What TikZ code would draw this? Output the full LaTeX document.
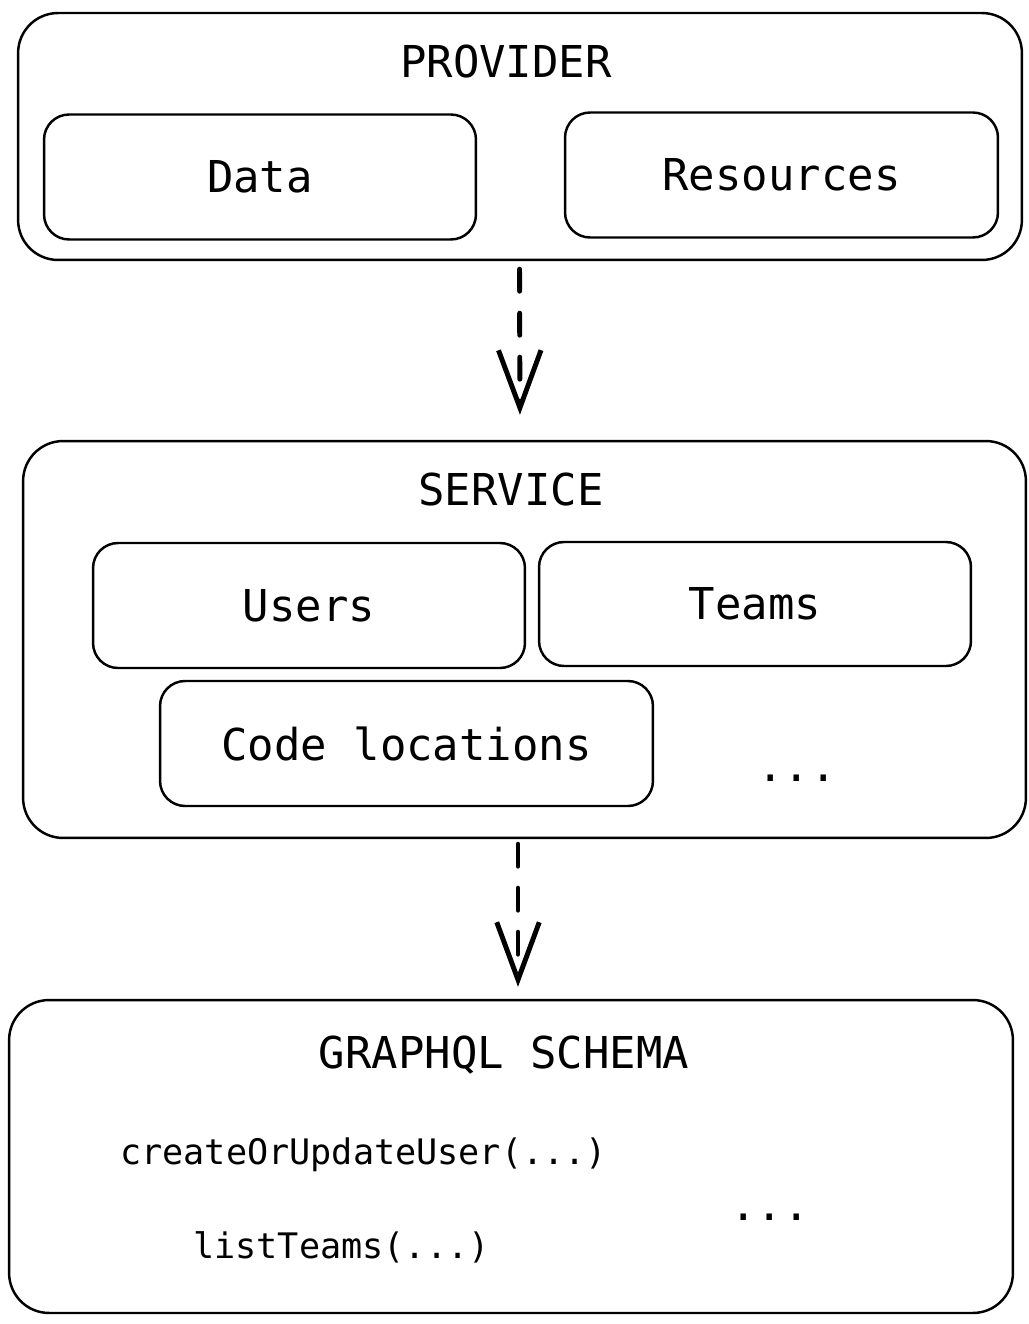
\documentclass[tikz,border=0pt]{standalone}
\usepackage{fontspec}
\setmonofont{DejaVu Sans Mono}
\usepackage{tikz}
\usetikzlibrary{arrows.meta}
\tikzset{
    every node/.style={inner sep=0mm, font=\ttfamily\fontsize{25}{30}\selectfont},
    layer/.style={draw, line width=1.4pt, rounded corners=0.8cm},
    part/.style={draw, line width=1.4pt, rounded corners=0.5cm, minimum width=8.64cm, minimum height=2.5cm},
    flow/.style={line width=2.8pt, line cap=round, dash pattern=on 0.44cm off 0.44cm,
        -{Straight Barb[length=1.15cm, width=0.85cm, line width=2.8pt]}},
    small/.style={font=\ttfamily\fontsize{20}{24}\selectfont}
}

\begin{document}
\begin{tikzpicture}[x=0.02cm, y=-0.02cm]
        \useasboundingbox (0,0) rectangle (1028,1324);
        % provider
        \node (prov) [layer, minimum width=20.08cm, minimum height=4.94cm] at (520, 136.5) {};
        \node (provt) at (506, 62) {PROVIDER};
        \node (data) [part] at (260, 177) {Data};
        \node (res) [part, minimum width=8.66cm] at (781.5, 175) {Resources};
        % service
        \node (svc) [layer, minimum width=20.06cm, minimum height=7.94cm] at (524.5, 639.5) {};
        \node (svct) at (511, 490) {SERVICE};
        \node (users) [part] at (309, 605.5) {Users};
        \node (teams) [part, minimum height=2.48cm] at (755, 604) {Teams};
        \node (code) [part, minimum width=9.86cm] at (406.5, 743.5) {Code locations};
        \node (svcmore) at (797, 778) {...};
        % graphql schema
        \node (gql) [layer, minimum width=20.08cm, minimum height=6.26cm] at (511, 1156.5) {};
        \node (gqlt) at (504, 1055) {GRAPHQL SCHEMA};
        \node (upd) [small, anchor=west] at (120, 1155) {createOrUpdateUser(...)};
        \node (lst) [small, anchor=west] at (193, 1247) {listTeams(...)};
        \node (gqlmore) at (770, 1217) {...};
        % arrows
        \draw [flow, shorten <=0.16cm, shorten >=0.5cm] ([xshift=-0.01cm]prov.south) -- (prov.south |- svc.north);
        \draw [flow, shorten <=0.1cm, shorten >=0.24cm] ([xshift=-0.13cm]svc.south) -- ([xshift=-0.13cm]svc.south |- gql.north);
\end{tikzpicture}
\end{document}
